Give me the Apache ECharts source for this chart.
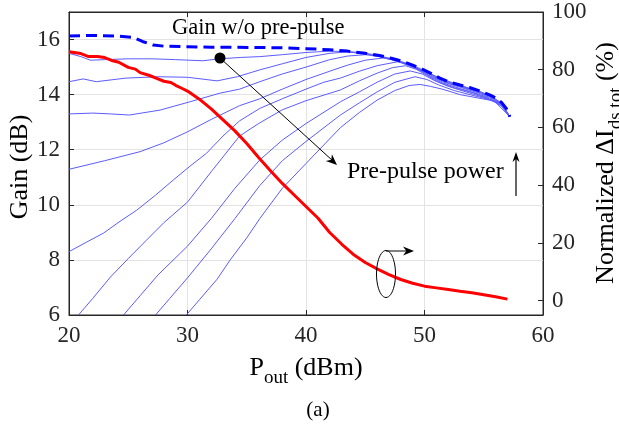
<!DOCTYPE html>
<html>
<head>
<meta charset="utf-8">
<script src="https://cdn.jsdelivr.net/npm/echarts@6/dist/echarts.min.js"></script>
<style>
  html, body { margin: 0; padding: 0; background: #fff; }
  #chart { width: 619px; height: 426px; }
</style>
</head>
<body>
<div id="chart"></div>
<script>
// tick labels
var xTicks = [20, 30, 40, 50, 60];
var gainTicks = [6, 8, 10, 12, 14, 16];
var pctTicks = [0, 20, 40, 60, 80, 100];

// gain w/o pre-pulse (dashed), [Pout dBm, gain dB]
var noPrePulse = [[20,16.13],[22,16.15],[24,16.13],[25.4,16.08],[26.2,15.93],[27.1,15.8],[28,15.76],[30,15.74],[32,15.72],[34,15.72],[36,15.71],[38,15.7],[40,15.67],[42,15.63],[43.5,15.58],[45,15.5],[46.2,15.42],[47.2,15.32],[48.2,15.2],[49,15.07],[49.8,14.93],[50.5,14.78],[51.3,14.6],[52,14.47],[53,14.35],[53.8,14.26],[54.7,14.13],[55.5,13.99],[56,13.88],[56.5,13.72],[56.9,13.5],[57.2,13.2]];

// gain with increasing pre-pulse power
var curve1 = [[20,15.5],[21,15.38],[21.8,15.25],[23,15.27],[25,15.3],[27,15.3],[29,15.27],[31.3,15.23],[32.7,15.3],[34.5,15.35],[36.1,15.38],[38,15.45],[40,15.53],[42,15.58],[44,15.55],[45.5,15.47],[47,15.33],[48.2,15.18],[49.5,14.97],[50.5,14.76],[51.5,14.56],[53,14.34],[54.7,14.11],[55.5,13.97],[56.5,13.7],[57.2,13.2]];
var curve2 = [[20,14.47],[21.2,14.57],[22.3,14.47],[24.8,14.6],[27.6,14.65],[30,14.63],[32.5,14.5],[34.2,14.65],[36.1,14.9],[38,15.12],[40,15.35],[42,15.5],[43.5,15.55],[45.2,15.47],[47,15.3],[48.2,15.15],[49.5,14.94],[50.5,14.74],[51.5,14.53],[53,14.32],[54.7,14.09],[55.5,13.95],[56.5,13.68],[57.2,13.2]];
var curve3 = [[20,13.3],[22,13.33],[23.5,13.3],[25.1,13.26],[27.7,13.44],[30.2,13.74],[32.7,14.05],[34.4,14.2],[36.1,14.47],[38,14.75],[40,15.0],[42,15.27],[43.5,15.4],[45,15.45],[46.2,15.38],[47.2,15.27],[48.2,15.13],[49.5,14.92],[50.5,14.72],[51.5,14.5],[53,14.3],[54.7,14.07],[55.5,13.93],[56.5,13.66],[57.2,13.2]];
var curve4 = [[20,11.29],[23,11.6],[26,11.93],[28,12.25],[30,12.65],[32,13.1],[34.4,13.6],[36.1,13.85],[38,14.2],[40,14.55],[42,14.85],[43.5,15.07],[45,15.25],[46.5,15.33],[47.5,15.25],[48.5,15.1],[49.5,14.9],[50.5,14.68],[51.5,14.47],[53,14.27],[54.7,14.04],[55.5,13.9],[56.5,13.63],[57.2,13.2]];
var curve5 = [[20,8.3],[21.5,8.65],[22.9,8.97],[24.3,9.4],[25.7,9.8],[27.3,10.35],[28.8,10.9],[30.2,11.4],[31.6,11.87],[33,12.5],[34.4,13.05],[36.1,13.5],[38,13.85],[40,14.2],[41.5,14.45],[42.9,14.6],[44.5,14.85],[46,15.05],[47.8,15.2],[48.8,15.1],[49.7,14.88],[50.5,14.65],[51.5,14.43],[53,14.22],[54.7,14.0],[55.5,13.87],[56.5,13.6],[57.2,13.2]];
var curve6 = [[20.8,6],[22,6.6],[23.5,7.38],[25,8.05],[26.5,8.7],[28,9.35],[30,10.1],[32,11.2],[34.4,12.5],[36,12.95],[38,13.45],[40,13.78],[42.9,14.17],[44.5,14.5],[46,14.78],[47.3,14.98],[48.4,15.05],[49.3,14.92],[50.2,14.7],[51.2,14.45],[52.5,14.25],[54,14.08],[55.5,13.84],[56.5,13.58],[57.2,13.2]];
var curve7 = [[24.6,6],[26,6.7],[27.5,7.45],[30,8.5],[32,9.5],[34,10.6],[36.1,11.63],[38,12.35],[40,12.95],[42.9,13.74],[44.5,14.1],[46,14.45],[47.5,14.75],[48.8,14.86],[49.8,14.75],[50.8,14.52],[52,14.3],[53.5,14.1],[55,13.9],[56,13.72],[57.2,13.2]];
var curve8 = [[27.3,6],[28.5,6.6],[30,7.35],[32,8.4],[34,9.5],[36.1,10.7],[38,11.6],[40,12.3],[42.9,13.26],[44.5,13.7],[46,14.1],[47.5,14.45],[49.2,14.65],[50.2,14.55],[51.2,14.35],[52.5,14.15],[54,13.98],[55.5,13.82],[56.4,13.7],[57.2,13.2]];
var curve9 = [[29.9,6],[31,6.55],[32.5,7.3],[33.6,8.0],[35,8.8],[36.1,9.5],[38,10.6],[40,11.5],[42.9,12.8],[44.5,13.35],[46,13.8],[47.5,14.15],[48.7,14.33],[49.6,14.37],[50.5,14.3],[51.5,14.2],[53,14.0],[54.5,13.88],[55.5,13.8],[56.4,13.7],[57.2,13.2]];

// normalized delta I_ds,tot (%), right axis
var deltaIds = [[20,86.2],[21,85.6],[21.6,84.6],[22.4,84.6],[23,84.2],[23.6,83.2],[24.2,82.6],[25,80.8],[25.6,80.2],[26,79.0],[26.8,78.0],[27.4,77.0],[28,76.0],[28.6,75.6],[29,74.6],[29.6,73.4],[30,72.6],[31,69.8],[32,66.4],[33,62.6],[34,58.8],[35,54.4],[36,49.6],[37,45.0],[38,40.6],[39,36.6],[40,32.6],[41,28.6],[42,23.6],[43,19.6],[44,16.0],[45,13.2],[46,11.0],[47,9.0],[48,7.3],[49,6.0],[50,5.0],[51,4.4],[52,3.8],[53,3.2],[54,2.7],[55,2.0],[56,1.3],[57,0.5]];

var thinCurves = [curve1, curve2, curve3, curve4, curve5, curve6, curve7, curve8, curve9];

var serif = 'Liberation Serif';
var axisColor = '#262626';

var myChart = echarts.init(document.getElementById('chart'));

var series = [];
thinCurves.forEach(function (c, i) {
    series.push({
        name: 'pre-pulse ' + (i + 1),
        type: 'line',
        data: c,
        showSymbol: false,
        lineStyle: { color: '#5c5cff', width: 1 },
        z: 2
    });
});
series.push({
    name: 'w/o pre-pulse',
    type: 'line',
    data: noPrePulse,
    showSymbol: false,
    lineStyle: { color: '#0000ff', width: 3, type: [11, 6] },
    z: 3
});
series.push({
    name: 'dIds',
    type: 'line',
    yAxisIndex: 1,
    data: deltaIds,
    showSymbol: false,
    lineStyle: { color: '#ff0000', width: 3 },
    z: 4
});

// helpers for annotation shapes
function arrowHead(tip, from, len, half) {
    var dx = tip[0] - from[0], dy = tip[1] - from[1];
    var d = Math.sqrt(dx * dx + dy * dy);
    var ux = dx / d, uy = dy / d;
    var bx = tip[0] - ux * len, by = tip[1] - uy * len;
    return [tip, [bx - uy * half, by + ux * half], [tip[0] - ux * len * 0.7, tip[1] - uy * len * 0.7], [bx + uy * half, by - ux * half]];
}
function ellipsePts(cx, cy, rx, ry) {
    var pts = [];
    for (var k = 0; k < 48; k++) {
        var a = k / 48 * Math.PI * 2;
        pts.push([cx + rx * Math.cos(a), cy + ry * Math.sin(a)]);
    }
    return pts;
}

var dot = [220, 58], tip1 = [337, 165];
var upFrom = [516, 196], upTip = [516, 152];
var rFrom = [386, 251], rTip = [414, 251];

option = {
    animation: false,
    backgroundColor: '#fff',
    textStyle: { fontFamily: serif },
    grid: {
        left: 69, right: 76, top: 12, bottom: 111,
        show: true, borderColor: axisColor, borderWidth: 1, backgroundColor: 'transparent'
    },
    xAxis: [{
        type: 'value', min: 20, max: 60, interval: 10,
        axisLine: { onZero: false, lineStyle: { color: axisColor } },
        axisTick: { inside: true, length: 5, lineStyle: { color: axisColor } },
        axisLabel: { color: axisColor, fontFamily: serif, fontSize: 23, margin: 9,
            customValues: xTicks },
        splitLine: { show: true, lineStyle: { color: '#e3e3e3' } }
    }, {
        type: 'value', min: 20, max: 60, interval: 10, position: 'top',
        axisLine: { onZero: false, lineStyle: { color: axisColor } },
        axisTick: { inside: true, length: 5, lineStyle: { color: axisColor } },
        axisLabel: { show: false },
        splitLine: { show: false }
    }],
    yAxis: [{
        type: 'value', min: 6, max: 17, interval: 2,
        axisLine: { show: true, onZero: false, lineStyle: { color: axisColor } },
        axisTick: { show: true, inside: true, length: 5, lineStyle: { color: axisColor } },
        axisLabel: { color: axisColor, fontFamily: serif, fontSize: 23, margin: 9,
            customValues: gainTicks },
        splitLine: { show: true, lineStyle: { color: '#e3e3e3' } }
    }, {
        type: 'value', min: -5, max: 100, position: 'right',
        axisLine: { show: true, onZero: false, lineStyle: { color: axisColor } },
        axisTick: { show: true, inside: true, length: 5, lineStyle: { color: axisColor },
            customValues: pctTicks },
        axisLabel: { color: axisColor, fontFamily: serif, fontSize: 23, margin: 9,
            customValues: pctTicks },
        splitLine: { show: false }
    }],
    series: series,
    graphic: [
        { type: 'text', x: 172, y: 28, z: 20,
          style: { text: 'Gain w/o pre-pulse', font: '22.5px "Liberation Serif"', fill: '#000', verticalAlign: 'middle' } },
        { type: 'line', z: 20, shape: { x1: dot[0], y1: dot[1], x2: tip1[0] - 4, y2: tip1[1] - 4 },
          style: { stroke: '#000', lineWidth: 1 } },
        { type: 'polygon', z: 20, shape: { points: arrowHead(tip1, dot, 11, 4.5) }, style: { fill: '#000' } },
        { type: 'circle', z: 21, shape: { cx: dot[0], cy: dot[1], r: 5.5 }, style: { fill: '#000' } },
        { type: 'text', x: 347, y: 172, z: 20,
          style: { text: 'Pre-pulse power', font: '24px "Liberation Serif"', fill: '#000', verticalAlign: 'middle' } },
        { type: 'line', z: 20, shape: { x1: upFrom[0], y1: upFrom[1], x2: upTip[0], y2: upTip[1] + 6 },
          style: { stroke: '#000', lineWidth: 1.2 } },
        { type: 'polygon', z: 20, shape: { points: arrowHead(upTip, upFrom, 10, 3.5) }, style: { fill: '#000' } },
        { type: 'polygon', z: 20, shape: { points: ellipsePts(386, 274, 9.5, 23.5) },
          style: { fill: 'none', stroke: '#000', lineWidth: 1 } },
        { type: 'line', z: 20, shape: { x1: rFrom[0], y1: rFrom[1], x2: rTip[0] - 6, y2: rTip[1] },
          style: { stroke: '#000', lineWidth: 1 } },
        { type: 'polygon', z: 20, shape: { points: arrowHead(rTip, rFrom, 11, 4.5) }, style: { fill: '#000' } },
        // axis titles
        { type: 'text', x: 20, y: 167, rotation: Math.PI / 2, z: 20,
          style: { text: 'Gain (dB)', font: '26px "Liberation Serif"', fill: '#000', align: 'center', verticalAlign: 'middle' } },
        { type: 'text', x: 306, y: 368, z: 20,
          style: { text: '{a|P}{s|out}{a| (dBm)}', align: 'center', verticalAlign: 'middle',
            rich: { a: { font: '26px "Liberation Serif"', fill: '#000' },
                    s: { font: '19px "Liberation Serif"', fill: '#000', padding: [20, 0, 0, 0] } } } },
        { type: 'text', x: 606, y: 163, rotation: Math.PI / 2, z: 20,
          style: { text: '{a|Normalized ΔI}{s|ds,tot}{a| (%)}', align: 'center', verticalAlign: 'middle',
            rich: { a: { font: '26px "Liberation Serif"', fill: '#000' },
                    s: { font: '19px "Liberation Serif"', fill: '#000', padding: [20, 0, 0, 0] } } } },
        { type: 'text', x: 318, y: 410, z: 20,
          style: { text: '(a)', font: '21px "Liberation Serif"', fill: '#000', align: 'center', verticalAlign: 'middle' } }
    ]
};

myChart.setOption(option);
</script>
</body>
</html>
